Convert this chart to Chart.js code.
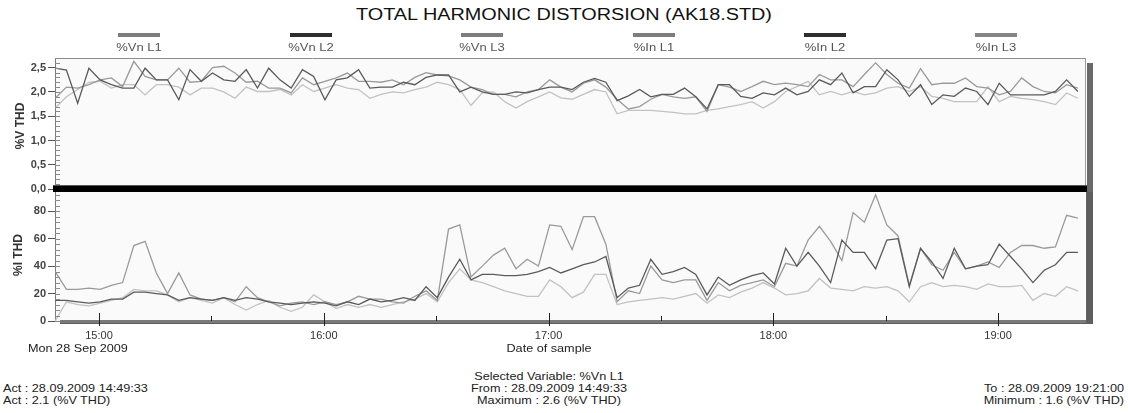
<!DOCTYPE html>
<html>
<head>
<meta charset="utf-8">
<script src="https://cdn.jsdelivr.net/npm/chart.js@4.4.0/dist/chart.umd.min.js"></script>
<style>
html,body{margin:0;padding:0;background:#fff;}
#wrap{position:relative;width:1128px;height:413px;overflow:hidden;font-family:Arial,"Liberation Sans",sans-serif;background:#fff;}
.t{position:absolute;white-space:nowrap;line-height:1;transform-origin:0 0;}
.sw{position:absolute;width:42px;height:4px;}
canvas{position:absolute;left:0;}
</style>
</head>
<body>
<div id="wrap">
  <canvas id="cv" width="1128" height="152" style="top:46px"></canvas>
  <canvas id="ci" width="1128" height="157" style="top:186px"></canvas>
  <div id="legend"></div>
  <div class="t" id="title" style="left:564px;top:7px;font-size:16px;color:#111;transform:scaleX(1.24) translateX(-50%)"></div>
  <div class="t" id="ytV" style="left:20px;top:126px;font-size:12px;font-weight:bold;color:#333;transform:rotate(-90deg) translate(-50%,-50%)"></div>
  <div class="t" id="ytI" style="left:18px;top:255px;font-size:12px;font-weight:bold;color:#333;transform:rotate(-90deg) translate(-50%,-50%)"></div>
  <div class="t" id="dateL" style="left:28px;top:343px;font-size:11px;color:#222;transform:scaleX(1.15)"></div>
  <div class="t" id="xTitle" style="left:549px;top:343px;font-size:11px;color:#222;transform:scaleX(1.15) translateX(-50%)"></div>
  <div class="t" id="sel" style="left:549px;top:371px;font-size:11px;color:#222;transform:scaleX(1.15) translateX(-50%)"></div>
  <div class="t" id="from" style="left:549px;top:383px;font-size:11px;color:#222;transform:scaleX(1.15) translateX(-50%)"></div>
  <div class="t" id="maxi" style="left:549px;top:395px;font-size:11px;color:#222;transform:scaleX(1.15) translateX(-50%)"></div>
  <div class="t" id="act1" style="left:3px;top:383px;font-size:11px;color:#222;transform:scaleX(1.15)"></div>
  <div class="t" id="act2" style="left:3px;top:395px;font-size:11px;color:#222;transform:scaleX(1.15)"></div>
  <div class="t" id="to" style="left:1124px;top:383px;font-size:11px;color:#222;transform:scaleX(1.15) translateX(-100%)"></div>
  <div class="t" id="mini" style="left:1124px;top:395px;font-size:11px;color:#222;transform:scaleX(1.15) translateX(-100%)"></div>
</div>
<script>
// ---------------- data ----------------
const TITLE = 'TOTAL HARMONIC DISTORSION (AK18.STD)';
const SERIES_NAMES = ['%Vn L1', '%Vn L2', '%Vn L3', '%In L1', '%In L2', '%In L3'];

// sample times: minutes after midnight (first sample 14:48:18, one sample every 3 minutes)
const START_MIN = 888.3;
const STEP_MIN = 3;

// %V THD (upper panel)
const VN_L1 = [1.87,2.10,2.08,2.15,2.25,2.29,2.11,2.63,2.32,2.25,2.25,2.49,2.20,2.22,2.50,2.53,2.39,2.20,2.22,2.08,2.08,1.98,2.29,2.15,2.22,2.29,2.39,2.22,2.22,
  2.20,2.25,2.15,2.30,2.40,2.35,2.33,2.25,2.10,2.05,1.95,1.95,1.90,2.00,2.05,2.25,2.10,2.00,2.18,2.25,2.10,1.85,1.65,1.70,1.85,1.95,1.90,1.87,1.90,1.60,2.15,2.10,
  2.01,2.11,2.22,2.15,2.18,2.15,2.11,2.36,2.25,2.25,2.11,2.36,2.60,2.36,2.18,2.08,2.48,2.15,2.18,2.18,2.29,2.11,2.08,1.94,2.01,2.29,2.11,2.01,1.98,2.15,2.08];
const VN_L2 = [2.49,2.45,1.77,2.49,2.25,2.15,2.08,2.08,2.49,2.25,2.25,1.84,2.46,2.22,2.39,2.25,2.22,2.46,2.08,2.49,2.25,2.08,2.46,2.32,1.84,2.25,2.29,2.46,2.08,
  2.10,2.10,2.20,2.15,2.30,2.35,2.35,2.00,2.10,2.00,1.95,1.95,2.00,1.98,2.05,2.10,2.10,2.05,2.20,2.28,2.20,1.82,1.92,2.05,1.90,1.95,1.95,2.08,1.90,1.65,2.15,2.15,
  1.91,1.87,1.98,1.94,2.08,1.94,2.01,2.25,2.15,2.39,1.98,2.11,2.11,2.46,2.25,1.91,2.15,1.74,1.94,1.91,2.08,2.01,1.74,2.18,1.94,1.94,1.94,1.94,2.01,2.25,2.01];
const VN_L3 = [1.67,1.90,2.05,2.20,2.22,2.08,2.15,2.15,1.94,2.15,2.15,2.10,1.94,2.08,2.08,2.00,1.87,2.10,2.01,2.01,2.05,1.94,2.15,2.01,2.08,2.15,2.08,2.05,1.87,
  1.95,2.00,1.98,2.05,2.10,2.20,2.15,2.05,1.72,1.98,2.00,1.80,1.67,1.80,1.90,2.00,1.88,1.85,1.95,2.05,2.00,1.55,1.62,1.62,1.62,1.60,1.58,1.55,1.55,1.62,1.65,1.70,
  1.74,1.80,1.67,1.80,2.01,2.11,2.22,1.94,2.01,1.94,2.01,1.94,1.98,2.08,2.11,2.01,2.11,1.91,1.87,1.80,1.80,1.80,2.11,1.80,1.91,1.87,1.84,1.80,1.74,1.98,1.87];

// %I THD (lower panel)
const IN_L1 = [36,23,23,24,23,26,28,55,58,35,20,35,19,16,15,17,14,25,17,14,11,13,14,12,14,12,14,18,16,16,
  14,13,18,22,15,67,70,32,40,48,53,38,45,40,70,69,52,76,76,56,14,22,20,40,30,28,30,30,15,28,
  22,26,28,30,25,42,40,59,69,58,44,79,72,92,70,62,26,53,41,37,50,38,40,43,39,50,55,55,53,54,77,75];
const IN_L2 = [15,15,14,13,14,16,16,21,21,20,19,15,17,16,15,17,15,17,16,14,13,12,13,14,13,11,14,12,16,14,
  15,17,15,25,17,32,45,30,34,34,33,33,34,36,39,35,38,41,43,47,17,24,26,45,34,36,39,34,19,32,
  26,30,33,35,27,53,40,50,40,28,59,50,50,38,59,60,25,53,43,31,53,38,40,41,56,47,38,28,37,41,50,50];
const IN_L3 = [0,14,12,11,13,15,17,23,22,22,19,14,17,15,13,17,12,8,12,15,10,7,10,19,14,9,12,10,12,10,
  12,14,16,20,14,28,38,30,28,25,22,20,18,18,30,25,17,21,34,34,12,14,15,16,17,16,18,20,13,19,
  17,21,24,28,24,19,20,22,31,24,23,22,25,24,25,22,14,25,28,25,26,25,23,27,25,25,26,15,20,18,25,22];

// axes
const X_MIN = 888.25, X_MAX = 1163.2;              // 14:48:15 .. 19:23:12
const HOUR_TICKS = [900, 960, 1020, 1080, 1140];
const HOUR_LABELS = ['15:00', '16:00', '17:00', '18:00', '19:00'];
const HALF_TICKS = [930, 990, 1050, 1110];
const V_TICKS = [0, 0.5, 1.0, 1.5, 2.0, 2.5];
const V_MAX = 2.7;
const I_TICKS = [0, 20, 40, 60, 80];
const I_MAX = 94;

const FOOTER = {
  dateL: 'Mon 28 Sep 2009',
  xTitle: 'Date of sample',
  sel: 'Selected Variable: %Vn L1',
  from: 'From : 28.09.2009 14:49:33',
  maxi: 'Maximum : 2.6 (%V THD)',
  act1: 'Act : 28.09.2009 14:49:33',
  act2: 'Act : 2.1 (%V THD)',
  to: 'To : 28.09.2009 19:21:00',
  mini: 'Minimum : 1.6 (%V THD)',
  ytV: '%V THD',
  ytI: '%I THD'
};

// ---------------- styles ----------------
const LINE_COLORS = ['#9a9a9a', '#5a5a5a', '#c2c2c2'];
const LEGEND_COLORS = ['#7d7d7d', '#2e2e2e', '#7d7d7d', '#7d7d7d', '#2e2e2e', '#858585'];
const LEGEND_X = [139, 311, 482, 654, 825, 996];

// ---------------- text ----------------
document.getElementById('title').textContent = TITLE;
for (const k in FOOTER) document.getElementById(k).textContent = FOOTER[k];
const lg = document.getElementById('legend');
SERIES_NAMES.forEach((n, i) => {
  const s = document.createElement('div');
  s.className = 'sw';
  s.style.left = (LEGEND_X[i] - 21) + 'px';
  s.style.top = '33px';
  s.style.background = LEGEND_COLORS[i];
  lg.appendChild(s);
  const t = document.createElement('div');
  t.className = 't';
  t.textContent = n;
  t.style.left = LEGEND_X[i] + 'px';
  t.style.top = '43px';
  t.style.fontSize = '10px';
  t.style.color = '#555';
  t.style.transform = 'scaleX(1.3) translateX(-50%)';
  lg.appendChild(t);
});

// ---------------- charts ----------------
Chart.defaults.font.family = 'Arial, "Liberation Sans", sans-serif';
const TIMES = VN_L1.map((_, i) => START_MIN + i * STEP_MIN);
const toXY = arr => arr.map((v, i) => ({x: TIMES[i], y: v}));

function ds(label, arr, ci) {
  return {label, data: toXY(arr), borderColor: LINE_COLORS[ci], borderWidth: 1.3,
          pointRadius: 0, tension: 0, fill: false, order: ci === 1 ? 0 : (ci === 0 ? 1 : 2)};
}

function line(ctx, x1, y1, x2, y2, c, w) {
  ctx.strokeStyle = c; ctx.lineWidth = w || 1;
  ctx.beginPath(); ctx.moveTo(x1, y1); ctx.lineTo(x2, y2); ctx.stroke();
}

const bgPlugin = {
  id: 'bg',
  beforeDraw(c) {
    const a = c.chartArea, ctx = c.ctx;
    ctx.save(); ctx.fillStyle = '#fafafa';
    ctx.fillRect(a.left, a.top, a.right - a.left, a.bottom - a.top);
    ctx.restore();
  }
};

function minorY(c, step, count) {
  const a = c.chartArea, ctx = c.ctx, ys = c.scales.y;
  for (let k = 0; k <= count; k++) {
    const py = Math.round(ys.getPixelForValue(k * step)) + 0.5;
    if (py < a.top) continue;
    line(ctx, a.left, py, a.left + 5, py, '#8a8a8a', 1);
  }
}

const upperDecor = {
  id: 'upperDecor',
  afterDraw(c) {
    const a = c.chartArea, ctx = c.ctx;
    ctx.save();
    minorY(c, 0.1, 27);
    line(ctx, a.left, Math.round(a.top) + 0.5, a.right, Math.round(a.top) + 0.5, '#8c8c8c', 1);
    line(ctx, a.right + 0.5, a.top, a.right + 0.5, a.bottom, '#9a9a9a', 1);
    ctx.fillStyle = '#6a6a6a';
    ctx.fillRect(a.right + 2, a.top + 5, 6, a.bottom - a.top);
    ctx.fillStyle = '#000';
    ctx.fillRect(a.left - 2, a.bottom - 3, a.right - a.left + 4, 6);
    ctx.fillStyle = '#555';
    ctx.fillRect(a.left - 2, a.bottom - 4, a.right - a.left + 4, 1);
    ctx.restore();
  }
};

const lowerDecor = {
  id: 'lowerDecor',
  afterDraw(c) {
    const a = c.chartArea, ctx = c.ctx, xs = c.scales.x;
    ctx.save();
    minorY(c, 4, 23);
    ctx.fillStyle = '#7a7a7a';
    ctx.fillRect(a.left + 5, a.bottom - 1, a.right - a.left + 3, 4);
    ctx.fillStyle = '#5e5e5e';
    ctx.fillRect(a.right + 1, a.top, 7, a.bottom - a.top + 3);
    ctx.fillRect(a.left + 5, a.bottom + 2, a.right - a.left + 3, 1);
    HOUR_TICKS.forEach(v => {
      const px = Math.round(xs.getPixelForValue(v)) + 0.5;
      line(ctx, px, a.bottom - 8, px, a.bottom + 5, '#222', 1);
    });
    HALF_TICKS.forEach(v => {
      const px = Math.round(xs.getPixelForValue(v)) + 0.5;
      line(ctx, px, a.bottom - 5, px, a.bottom, '#222', 1);
    });
    ctx.restore();
  }
};

function yScale(max, ticks, fmt) {
  return {
    type: 'linear', min: 0, max: max,
    afterBuildTicks: s => { s.ticks = ticks.map(v => ({value: v})); },
    afterFit: s => { s.width = 55; s.paddingTop = 0; s.paddingBottom = 0; },
    ticks: {callback: fmt, font: {size: 11, weight: 'bold'}, color: '#444', padding: 2, autoSkip: false},
    grid: {drawOnChartArea: false, drawTicks: true, tickLength: 7, color: '#555'},
    border: {display: true, color: '#7a7a7a', width: 1}
  };
}

new Chart(document.getElementById('cv'), {
  type: 'line',
  data: {datasets: [ds(SERIES_NAMES[0], VN_L1, 0), ds(SERIES_NAMES[1], VN_L2, 1), ds(SERIES_NAMES[2], VN_L3, 2)]},
  options: {
    responsive: false, animation: false, events: [],
    layout: {padding: {left: 0, right: 43, top: 12, bottom: 9}},
    plugins: {legend: {display: false}, tooltip: {enabled: false}},
    scales: {
      x: {type: 'linear', min: X_MIN, max: X_MAX, display: false},
      y: yScale(V_MAX, V_TICKS, v => v.toFixed(1).replace('.', ','))
    }
  },
  plugins: [bgPlugin, upperDecor]
});

new Chart(document.getElementById('ci'), {
  type: 'line',
  data: {datasets: [ds(SERIES_NAMES[3], IN_L1, 0), ds(SERIES_NAMES[4], IN_L2, 1), ds(SERIES_NAMES[5], IN_L3, 2)]},
  options: {
    responsive: false, animation: false, events: [],
    layout: {padding: {left: 0, right: 43, top: 6, bottom: 0}},
    plugins: {legend: {display: false}, tooltip: {enabled: false}},
    scales: {
      x: {
        type: 'linear', min: X_MIN, max: X_MAX,
        afterBuildTicks: s => { s.ticks = HOUR_TICKS.map(v => ({value: v})); },
        afterFit: s => { s.height = 22; s.paddingLeft = 0; s.paddingRight = 0; },
        ticks: {callback: (v, i) => HOUR_LABELS[i], font: {size: 11}, color: '#333', padding: 8, maxRotation: 0, autoSkip: false},
        grid: {display: false, drawTicks: false, tickLength: 0},
        border: {display: false}
      },
      y: yScale(I_MAX, I_TICKS, v => String(v))
    }
  },
  plugins: [bgPlugin, lowerDecor]
});
</script>
</body>
</html>
